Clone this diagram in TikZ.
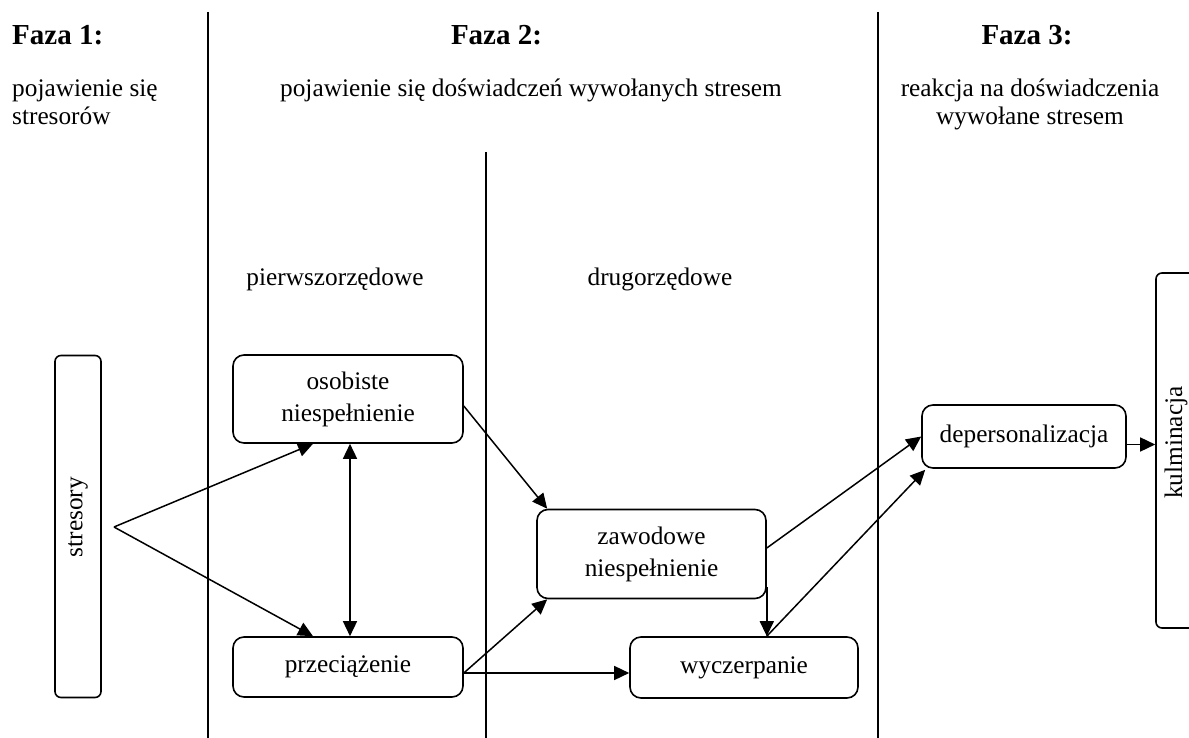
\documentclass[tikz,border=0pt]{standalone}
\usepackage{fontspec}
\setmainfont{Liberation Serif}
\usetikzlibrary{arrows.meta,calc}
\begin{document}
\begin{tikzpicture}[x=1pt,y=-1pt,
  box/.style={draw,line width=1.6pt,rounded corners=11pt,align=center,font=\fontsize{25.3}{32}\selectfont,inner sep=0pt},
  tall/.style={draw,line width=1.6pt,rounded corners=6pt,rotate=90,font=\fontsize{25.3}{32}\selectfont,inner sep=0pt},
  arr/.style={line width=1.5pt,-{Triangle[length=15pt,width=14pt]}},
  darr/.style={line width=1.5pt,{Triangle[length=15pt,width=14pt]}-{Triangle[length=15pt,width=14pt]}},
  sep/.style={line width=2pt},
  head/.style={font=\bfseries\fontsize{29}{34}\selectfont,inner sep=0pt},
  txt/.style={font=\fontsize{25.3}{29}\selectfont,inner sep=0pt,align=center}]
\useasboundingbox (0,0) rectangle (1189,738);

% separators
\draw[sep] (208,12) -- (208,738);
\draw[sep] (486,152) -- (486,738);
\draw[sep] (878,12) -- (878,738);

% headings
\node[head,anchor=base west] (f1) at (12,45) {Faza 1:};
\node[txt,anchor=base west] (f1a) at (12,97) {pojawienie się};
\node[txt,anchor=base west] (f1b) at (12,125) {stresorów};
\node[head,anchor=base] (f2) at (496.5,45) {Faza 2:};
\node[txt,anchor=base] (f2a) at (531,97) {pojawienie się doświadczeń wywołanych stresem};
\node[head,anchor=base] (f3) at (1027,45) {Faza 3:};
\node[txt,anchor=base] (f3a) at (1030,97) {reakcja na doświadczenia};
\node[txt,anchor=base] (f3b) at (1030,125) {wywołane stresem};
\node[txt,anchor=base] (prim) at (335,285) {pierwszorzędowe};
\node[txt,anchor=base] (sec) at (660,285) {drugorzędowe};

% boxes
\node[tall,minimum width=342pt,minimum height=46pt] (stres) at (78,526.5) {\hspace*{19pt}stresory};
\node[box,minimum width=230pt,minimum height=88pt] (osob) at (348,399) {osobiste\\niespełnienie};
\node[box,minimum width=230pt,minimum height=60pt] (przec) at (348,667) {przeciążenie};
\node[box,minimum width=229pt,minimum height=89pt] (zaw) at (651.5,554) {zawodowe\\niespełnienie};
\node[box,minimum width=228pt,minimum height=61pt] (wycz) at (744,667.5) {wyczerpanie};
\node[box,minimum width=204pt,minimum height=63pt] (depers) at (1024,436.5) {depersonalizacja};
\begin{scope}
\clip (0,0) rectangle (1189,738);
\node[tall,minimum width=355pt,minimum height=40pt] (kulm) at (1176,450.5) {\hspace*{16pt}kulminacja};
\end{scope}

% connectors
\coordinate (fork) at (114,527);
\draw[arr] (fork) -- ($(osob.south)+(-35,0)$);
\draw[arr] (fork) -- ($(przec.north)+(-35,0)$);
\draw[darr] ($(osob.south)+(2,0)$) -- ($(przec.north)+(2,0)$);
\draw[arr] ($(osob.east)+(0,7)$) -- ($(zaw.north west)+(11,0)$);
\draw[arr] ($(przec.east)+(0,6)$) -- ($(zaw.south west)+(11,0)$);
\draw[arr] ($(przec.east)+(0,6)$) coordinate (p1) -- (p1 -| wycz.west);
\draw[arr] ($(zaw.south east)+(0,-12)$) -- (zaw.south east |- wycz.north);
\draw[arr] ($(zaw.east)+(0,-6)$) -- (depers.west);
\draw[arr] (zaw.south east |- wycz.north) -- ($(depers.south west)+(4,1)$);
\draw[arr] ($(depers.east)+(0,8)$) coordinate (k1) -- (k1 -| kulm.north);
\end{tikzpicture}
\end{document}
